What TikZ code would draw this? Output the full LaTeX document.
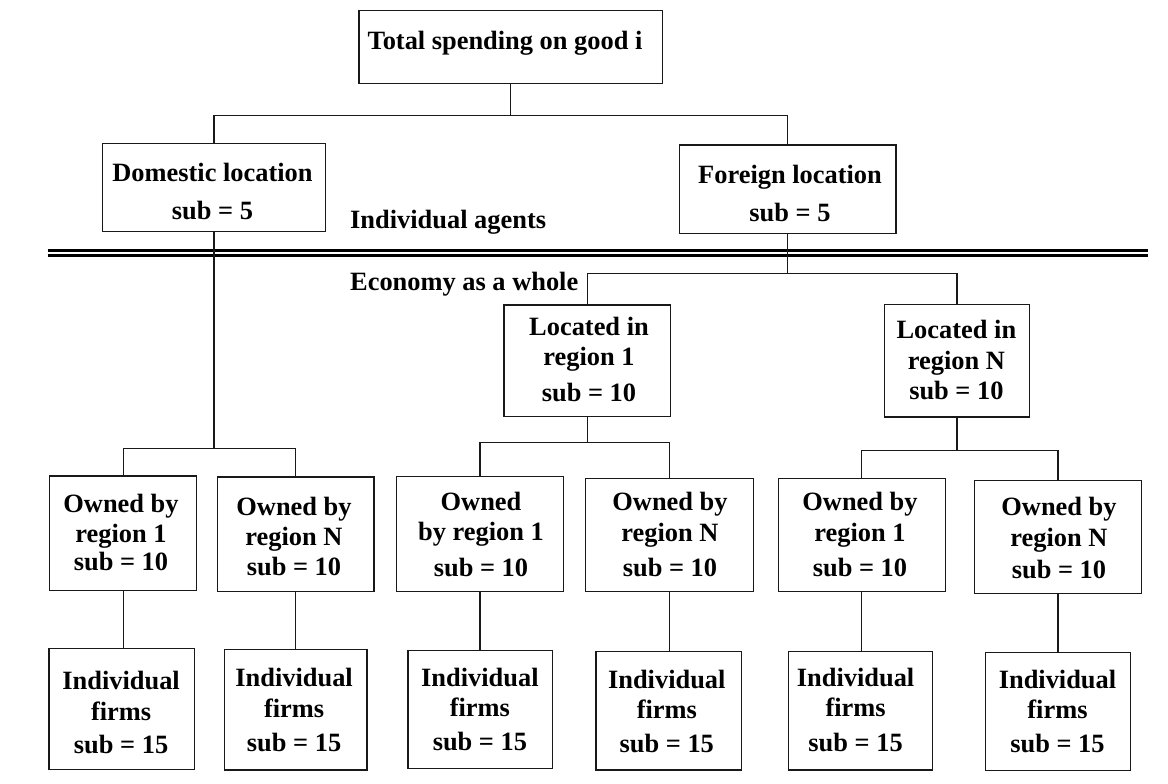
\documentclass[tikz,border=0pt]{standalone}
\usepackage{fontspec}
\setmainfont{Liberation Serif}
\usetikzlibrary{calc}
\newcommand\mystack[1]{\begin{tabular}[t]{@{}c@{}}#1\end{tabular}}
\begin{document}
\begin{tikzpicture}[x=1pt,y=-1pt,
  box/.style={draw=black!90, line width=1.3pt, inner sep=0pt, rectangle},
  lbl/.style={anchor=base, inner sep=0pt, font=\bfseries\fontsize{26.4}{30}\selectfont},
  lbw/.style={anchor=base west, inner sep=0pt, font=\bfseries\fontsize{26.4}{30}\selectfont},
  conn/.style={draw=black!90, line width=1.3pt},
  sep/.style={draw=black, line width=2.9pt}]
\useasboundingbox (0,0) rectangle (1168,784);

% boxes
\node[box, minimum width=303.5pt, minimum height=72.6pt] (T) at (510.75,47) {};
\node[box, minimum width=222.7pt, minimum height=88.4pt] (D) at (213.95,187.5) {};
\node[box, minimum width=216.7pt, minimum height=88.3pt] (F) at (787.75,189.15) {};
\node[box, minimum width=166.5pt, minimum height=111.7pt] (L1) at (587.25,360.85) {};
\node[box, minimum width=144.7pt, minimum height=112.3pt] (LN) at (956.85,360.85) {};
\node[box, minimum width=146.9pt, minimum height=114.7pt] (O1) at (123.25,533.35) {};
\node[box, minimum width=156.5pt, minimum height=114.7pt] (O2) at (295.65,534.35) {};
\node[box, minimum width=166.8pt, minimum height=115pt] (O3) at (479.9,534.2) {};
\node[box, minimum width=167.6pt, minimum height=113.4pt] (O4) at (669.4,535) {};
\node[box, minimum width=166.8pt, minimum height=113.4pt] (O5) at (861.8,535) {};
\node[box, minimum width=166.8pt, minimum height=112.6pt] (O6) at (1057.9,537) {};
\node[box, minimum width=145.8pt, minimum height=120.6pt] (B1) at (121.9,709) {};
\node[box, minimum width=142.4pt, minimum height=120.7pt] (B2) at (295.8,709.65) {};
\node[box, minimum width=144.6pt, minimum height=118pt] (B3) at (480.3,709.7) {};
\node[box, minimum width=145.1pt, minimum height=118.3pt] (B4) at (668.65,710.85) {};
\node[box, minimum width=144.3pt, minimum height=118.3pt] (B5) at (860.65,710.85) {};
\node[box, minimum width=145.1pt, minimum height=118.4pt] (B6) at (1058.25,711.5) {};

% texts
\node[lbl] (tT) at (505,50) {Total spending on good i};
\node[lbl] (tD) at (212.5,181.7) {\mystack{Domestic location\\[7.3pt] sub = 5}};
\node[lbl] (tF) at (790,183.3) {\mystack{Foreign location\\[7.7pt] sub = 5}};
\node[lbw] (tIA) at (350,228.3) {Individual agents};
\node[lbw] (tEW) at (350,290) {Economy as a whole};
\node[lbl] (tL1) at (589,335) {\mystack{Located in\\[0.7pt] region 1\\[6pt] sub = 10}};
\node[lbl] (tLN) at (956.4,338.3) {\mystack{Located in\\[0.7pt] region N\\[0.3pt] sub = 10}};
\node[lbl] (tO1) at (121,512.7) {\mystack{Owned by\\ region 1\\[-2pt] sub = 10}};
\node[lbl] (tO2) at (294,515) {\mystack{Owned by\\ region N\\ sub = 10}};
\node[lbl] (tO3) at (481,510.7) {\mystack{Owned\\ by region 1\\[6pt] sub = 10}};
\node[lbl] (tO4) at (670,510) {\mystack{Owned by\\[1.7pt] region N\\[5pt] sub = 10}};
\node[lbl] (tO5) at (860,510) {\mystack{Owned by\\[1.7pt] region 1\\[5pt] sub = 10}};
\node[lbl] (tO6) at (1059,515) {\mystack{Owned by\\[1pt] region N\\[2.3pt] sub = 10}};
\node[lbl] (tB1) at (121.1,689.3) {\mystack{Individual\\[0.7pt] firms\\[3.3pt] sub = 15}};
\node[lbl] (tB2) at (294.1,686.7) {\mystack{Individual\\[1pt] firms\\[4pt] sub = 15}};
\node[lbl] (tB3) at (479.9,686.7) {\mystack{Individual\\ firms\\[3.3pt] sub = 15}};
\node[lbl] (tB4) at (666.8,688.3) {\mystack{Individual\\ firms\\[4.4pt] sub = 15}};
\node[lbl] (tB5) at (855.6,686.7) {\mystack{Individual\\ firms\\[5pt] sub = 15}};
\node[lbl] (tB6) at (1057.5,688.3) {\mystack{Individual\\ firms\\[4.4pt] sub = 15}};

% separator double line
\draw[sep] (47.7,250.8) -- (1148,250.8);
\draw[sep] (47.7,255.5) -- (1148,255.5);

% junctions
\coordinate (j1) at (T.south |- 0,115.7);
\coordinate (j2) at (D.south |- 0,448.3);
\coordinate (j3) at (F.south |- 0,273.3);
\coordinate (j4) at (L1.south |- 0,442.7);
\coordinate (j5) at (LN.south |- 0,450.3);

% connectors
\draw[conn] (T.south) -- (j1);
\draw[conn] (D.north) |- (j1) -| (F.north);
\draw[conn] (D.south) -- (j2);
\draw[conn] (O1.north) |- (j2) -| (O2.north);
\draw[conn] (F.south) -- (j3);
\draw[conn] (L1.north) |- (j3) -| (LN.north);
\draw[conn] (L1.south) -- (j4);
\draw[conn] (O3.north) |- (j4) -| (O4.north);
\draw[conn] (LN.south) -- (j5);
\draw[conn] (O5.north) |- (j5) -| (O6.north);
\draw[conn] (O1.south) -- (O1.south |- B1.north);
\draw[conn] (O2.south) -- (O2.south |- B2.north);
\draw[conn] (O3.south) -- (O3.south |- B3.north);
\draw[conn] (O4.south) -- (O4.south |- B4.north);
\draw[conn] (O5.south) -- (O5.south |- B5.north);
\draw[conn] (O6.south) -- (O6.south |- B6.north);
\end{tikzpicture}
\end{document}
